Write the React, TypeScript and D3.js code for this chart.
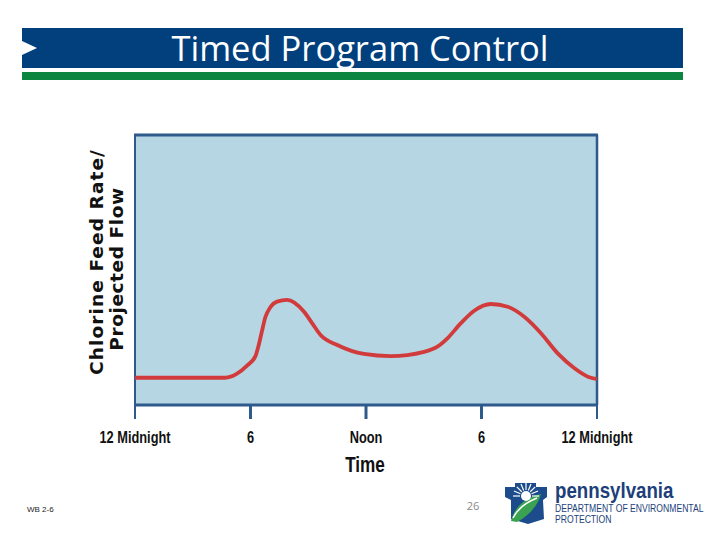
import React from "react";
import * as d3 from "d3";

const hours = [0, 2.4, 4.69, 5.3, 5.82, 6.25, 6.42, 6.6, 6.77, 7.03, 7.38, 7.9, 8.77, 9.2, 9.64, 10.51, 11.89, 13.28, 15.02, 15.71, 16.23, 16.93, 17.62, 18.49, 19.36, 20.22, 21.09, 21.96, 22.83, 23.53, 24];
const feedRate = [10.1, 10.1, 10.1, 11.6, 14.6, 18.0, 22.0, 27.5, 32.5, 36.2, 38.3, 38.9, 34.6, 30.3, 25.9, 22.2, 18.9, 18.1, 19.7, 21.6, 24.7, 30.3, 34.9, 37.4, 36.4, 32.7, 26.6, 19.1, 13.6, 10.5, 9.6];
const tickHours = [0, 6, 12, 18, 24];
const tickLabels = ["12 Midnight", "6", "Noon", "6", "12 Midnight"];

const title = "Timed Program Control";
const yLabelLines = ["Chlorine Feed Rate/", "Projected Flow"];
const xLabel = "Time";

const sans = "'Liberation Sans', Arial, sans-serif";

function Narrow(props: { x: number; y: number; size: number; sx?: number; anchor?: string; weight?: string; fill?: string; children: React.ReactNode }) {
  const { x, y, size, sx = 0.8, anchor = "start", weight = "normal", fill = "#111", children } = props;
  return (
    <text transform={`translate(${x},${y}) scale(${sx},1)`} textAnchor={anchor as any} fontFamily={sans} fontWeight={weight} fontSize={size} fill={fill}>{children}</text>
  );
}

export default function App() {
  const left = 135, right = 597, top = 135, bottom = 405;
  const x = d3.scaleLinear().domain([0, 24]).range([left, right]);
  const y = d3.scaleLinear().domain([0, 100]).range([bottom, top]);
  const pts = hours.map((h, i) => [h, feedRate[i]] as [number, number]);
  const line = d3.line<[number, number]>().x(d => x(d[0])).y(d => y(d[1])).curve(d3.curveMonotoneX);
  const frame = "#2e5a8c";

  return (
    <svg width={720} height={540} style={{ position: "absolute", left: 0, top: 0, background: "#fff" }}>
      {/* header band */}
      <rect x={22} y={28} width={661} height={40} fill="#013f7d" />
      <polygon points="22,41 37,48 22,55" fill="#fff" />
      <rect x={22} y={72} width={661} height={8} fill="#0c8541" />
      <text x={360} y={61} textAnchor="middle" fill="#fff" fontFamily="'Open Sans', Lato, sans-serif" fontSize={34.5}>{title}</text>

      {/* plot */}
      <rect x={left} y={top} width={right - left} height={bottom - top} fill="#b6d6e3" stroke={frame} strokeWidth={2} />
      <line x1={left - 1} x2={right + 1} y1={top} y2={top} stroke={frame} strokeWidth={3} />
      <line x1={right} x2={right} y1={top} y2={bottom} stroke={frame} strokeWidth={2.5} />
      <path d={line(pts) || ""} fill="none" stroke="#d13b3c" strokeWidth={3.8} strokeLinecap="butt" />
      <line x1={left} x2={right} y1={bottom} y2={bottom} stroke={frame} strokeWidth={3} />
      {tickHours.map((h, i) => (
        <g key={i}>
          <line x1={x(h)} x2={x(h)} y1={bottom} y2={419} stroke={frame} strokeWidth={i === 0 || i === 4 ? 2 : 3} />
          <Narrow x={x(h)} y={443} size={16} sx={0.8} anchor="middle" weight="bold">{tickLabels[i]}</Narrow>
        </g>
      ))}
      <Narrow x={365} y={472} size={22} sx={0.78} anchor="middle" weight="bold">{xLabel}</Narrow>
      <text transform="translate(103,262) rotate(-90)" textAnchor="middle" fontFamily="'DejaVu Sans', sans-serif" fontWeight="bold" fontSize={18.5} fill="#111" letterSpacing={1.1}>{yLabelLines[0]}</text>
      <text transform="translate(123,269) rotate(-90)" textAnchor="middle" fontFamily="'DejaVu Sans', sans-serif" fontWeight="bold" fontSize={18.5} fill="#111" letterSpacing={0.6}>{yLabelLines[1]}</text>

      {/* footer */}
      <text x={27} y={512} fontFamily={sans} fontSize={8} fill="#222">WB 2-6</text>
      <text x={473} y={510} textAnchor="middle" fontFamily="'Open Sans', sans-serif" fontSize={11} fill="#888">26</text>
      <g>
        <path d="M505,487 L515,487 L515,483 L536,483 L536,487 L547,487 L547,497 L543,500 L544,519 L528,524 L511,519 L511,500 L505,497 Z" fill="#1d4c8c" />
        <path d="M511,521 C514,508 524,498 541,494 C538,505 530,515 517,522 Z" fill="#3aa251" />
        <path d="M513,518 C518,508 527,502 537,498" stroke="#fff" strokeWidth={1.5} fill="none" />
        <circle cx={526} cy={496} r={5} fill="#fff" />
        {d3.range(9).map(i => {
          const a = Math.PI + (i * Math.PI) / 8;
          return <line key={i} x1={526 + 6 * Math.cos(a)} y1={496 + 6 * Math.sin(a)} x2={526 + 13 * Math.cos(a)} y2={496 + 13 * Math.sin(a)} stroke="#fff" strokeWidth={1.2} />;
        })}
      </g>
      <Narrow x={555} y={498} size={22} sx={0.85} weight="bold" fill="#1d3f7a">pennsylvania</Narrow>
      <Narrow x={555} y={512} size={10.5} sx={0.82} fill="#1d3f7a">DEPARTMENT OF ENVIRONMENTAL</Narrow>
      <Narrow x={555} y={523} size={10.5} sx={0.82} fill="#1d3f7a">PROTECTION</Narrow>
    </svg>
  );
}
